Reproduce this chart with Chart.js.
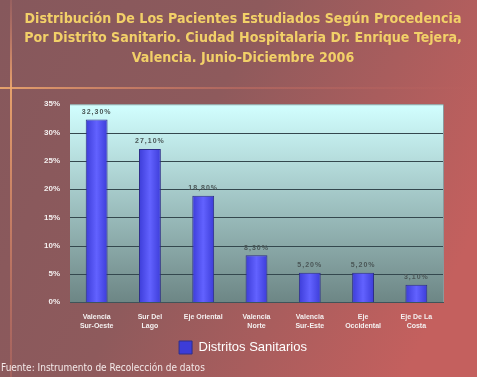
<!DOCTYPE html>
<html>
<head>
<meta charset="utf-8">
<script src="https://cdn.jsdelivr.net/npm/chart.js@4/dist/chart.umd.min.js"></script>
<style>
  html, body { margin: 0; padding: 0; }
  body { width: 477px; height: 377px; overflow: hidden; }
  #wrap { position: relative; width: 477px; height: 377px; }
</style>
</head>
<body>
<div id="wrap"><canvas id="chart" width="477" height="377"></canvas></div>
<script>
// Datos
const distritos = [
    ['Valencia', 'Sur-Oeste'],
    ['Sur Del', 'Lago'],
    'Eje Oriental',
    ['Valencia', 'Norte'],
    ['Valencia', 'Sur-Este'],
    ['Eje', 'Occidental'],
    ['Eje De La', 'Costa']
];
const porcentajes = [32.3, 27.1, 18.8, 8.3, 5.2, 5.2, 3.1];
const tickValues = [0, 5, 10, 15, 20, 25, 30, 35];
const serieNombre = 'Distritos Sanitarios';
const titulo = [
    'Distribución De Los Pacientes Estudiados Según Procedencia',
    'Por Distrito Sanitario. Ciudad Hospitalaria Dr. Enrique Tejera,',
    'Valencia. Junio-Diciembre 2006'
];
const fuente = 'Fuente: Instrumento de Recolección de datos';

const tickFont = { family: 'Liberation Sans', size: 7, weight: 'bold' };

// fondo de la diapositiva
const fondo = {
    id: 'fondo',
    beforeDraw(chart) {
        const ctx = chart.ctx;
        const w = chart.width, h = chart.height;
        ctx.save();
        const g = ctx.createLinearGradient(0, 0, w, h * 0.6);
        g.addColorStop(0, '#86585c');
        g.addColorStop(0.45, '#8e5a5c');
        g.addColorStop(1, '#c4605e');
        ctx.fillStyle = g;
        ctx.fillRect(0, 0, w, h);
        // lineas decorativas
        const gh = ctx.createLinearGradient(0, 0, w, 0);
        gh.addColorStop(0, 'rgba(240,170,110,0.9)');
        gh.addColorStop(0.5, 'rgba(220,120,100,0.4)');
        gh.addColorStop(1, 'rgba(210,110,100,0)');
        ctx.fillStyle = gh;
        ctx.fillRect(0, 87, w, 2);
        const gv = ctx.createLinearGradient(0, 0, 0, h);
        gv.addColorStop(0, 'rgba(220,130,110,0.2)');
        gv.addColorStop(0.23, 'rgba(240,170,110,0.9)');
        gv.addColorStop(1, 'rgba(220,120,100,0.3)');
        ctx.fillStyle = gv;
        ctx.fillRect(10, 0, 2, h);
        ctx.restore();
    },
    beforeDatasetsDraw(chart) {
        const a = chart.chartArea;
        const ctx = chart.ctx;
        ctx.save();
        const g = ctx.createLinearGradient(0, a.top, 0, a.bottom);
        g.addColorStop(0, '#d2ffff');
        g.addColorStop(1, '#6d8685');
        ctx.fillStyle = g;
        ctx.fillRect(a.left, a.top, a.right - a.left, a.bottom - a.top);
        // lineas de cuadricula
        const y = chart.scales.y;
        ctx.strokeStyle = '#34484e';
        ctx.lineWidth = 1;
        tickValues.forEach(function(v) {
            if (v === 0 || v === 35) return;
            const py = Math.round(y.getPixelForValue(v)) + 0.5;
            ctx.beginPath();
            ctx.moveTo(a.left, py);
            ctx.lineTo(a.right, py);
            ctx.stroke();
        });
        // borde
        ctx.strokeStyle = '#8a9a9c';
        ctx.beginPath();
        ctx.moveTo(a.left, a.top + 0.5);
        ctx.lineTo(a.right + 0.5, a.top + 0.5);
        ctx.lineTo(a.right + 0.5, a.bottom);
        ctx.stroke();
        ctx.restore();
    },
    afterDatasetsDraw(chart) {
        const ctx = chart.ctx;
        const meta = chart.getDatasetMeta(0);
        ctx.save();
        ctx.font = 'bold 7px "Liberation Sans"';
        ctx.letterSpacing = '1px';
        ctx.fillStyle = '#4a5656';
        ctx.textAlign = 'center';
        ctx.textBaseline = 'bottom';
        meta.data.forEach(function(bar, i) {
            const txt = porcentajes[i].toFixed(2).replace('.', ',') + '%';
            ctx.fillText(txt, bar.x, bar.y - 4);
        });
        ctx.restore();
    },
    afterDraw(chart) {
        // fuente de los datos
        const ctx = chart.ctx;
        ctx.save();
        ctx.font = '10px "DejaVu Sans Condensed"';
        ctx.fillStyle = '#f4eaea';
        ctx.textAlign = 'left';
        ctx.textBaseline = 'middle';
        ctx.fillText(fuente, 1, 368);
        ctx.restore();
    }
};

function barColor(c) {
    const chart = c.chart;
    if (!chart.chartArea || !chart.scales.x) return '#5050ff';
    const x = chart.scales.x.getPixelForValue(c.dataIndex);
    const hw = 11;
    const g = chart.ctx.createLinearGradient(x - hw, 0, x + hw, 0);
    g.addColorStop(0, '#3c3cd8');
    g.addColorStop(0.5, '#6262ff');
    g.addColorStop(1, '#3c3cd8');
    return g;
}

new Chart(document.getElementById('chart').getContext('2d'), {
    type: 'bar',
    data: {
        labels: distritos,
        datasets: [{
            label: serieNombre,
            data: porcentajes,
            backgroundColor: barColor,
            borderColor: '#2e2e88',
            borderWidth: 1,
            barPercentage: 0.82,
            categoryPercentage: 0.5
        }]
    },
    options: {
        responsive: false,
        animation: false,
        layout: { padding: { left: 9, right: 0, top: 0, bottom: 13 } },
        scales: {
            x: {
                grid: { display: false, drawOnChartArea: false },
                border: { color: '#34484e', width: 1 },
                ticks: { color: '#f4f0f0', font: tickFont, padding: 3, maxRotation: 0, autoSkip: false }
            },
            y: {
                min: 0,
                max: 35,
                grid: { display: false },
                border: { color: '#34484e', width: 1 },
                afterBuildTicks(axis) {
                    axis.ticks = tickValues.map(function(v) { return { value: v }; });
                },
                afterFit(axis) {
                    axis.width = 61;
                },
                ticks: {
                    color: '#f4f0f0',
                    font: { family: 'Liberation Sans', size: 8, weight: 'bold' },
                    padding: 2,
                    callback: function(v) { return v + '%'; }
                }
            },
            margen: {
                type: 'linear',
                position: 'right',
                display: true,
                grid: { display: false },
                border: { display: false },
                ticks: { display: false },
                afterFit(axis) {
                    axis.width = 34;
                }
            }
        },
        plugins: {
            title: {
                display: true,
                text: titulo,
                color: '#f2d068',
                font: { family: 'DejaVu Sans Condensed', size: 14.1, weight: 'bold', lineHeight: 1.4 },
                padding: { top: 9, bottom: 36 }
            },
            legend: {
                position: 'bottom',
                labels: {
                    color: '#ffffff',
                    font: { family: 'Liberation Sans', size: 13 },
                    boxWidth: 13,
                    boxHeight: 13,
                    padding: 8
                }
            },
            tooltip: { enabled: false }
        }
    },
    plugins: [fondo]
});
</script>
</body>
</html>
